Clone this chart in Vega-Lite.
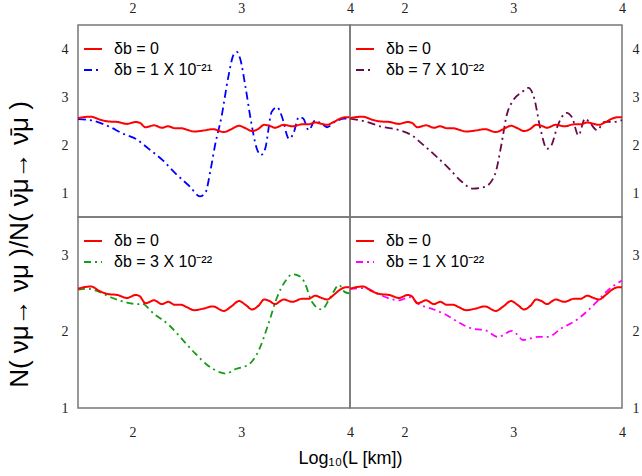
{
  "$schema": "https://vega.github.io/schema/vega-lite/v6.json",
  "padding": {"left": 5, "top": 0, "right": 0, "bottom": 0},
  "config": {
    "view": {"stroke": "#777", "strokeWidth": 1.5},
    "axis": {
      "grid": false,
      "domain": false,
      "ticks": false,
      "labelFont": "Liberation Serif",
      "labelFontSize": 14,
      "labelColor": "#222",
      "labelFlush": false,
      "labelOverlap": false,
      "labelExpr": "datum.value % 1 == 0 ? format(datum.value, 'd') : ''",
      "titleFont": "Liberation Sans",
      "titleFontWeight": "normal",
      "titleColor": "black"
    },
    "legend": {
      "orient": "none",
      "legendX": 5,
      "legendY": 14,
      "title": null,
      "padding": 0,
      "labelFont": "Liberation Sans",
      "labelFontSize": 16,
      "labelColor": "black",
      "symbolSize": 324,
      "symbolStrokeWidth": 2,
      "symbolType": "stroke",
      "rowPadding": 3,
      "labelOffset": 11
    },
    "line": {"strokeWidth": 2, "interpolate": "monotone"},
    "tick": {"thickness": 1.5, "color": "black", "opacity": 1}
  },
  "datasets": {
    "xt": [
      {"x": 2, "k": "major"}, {"x": 2.5, "k": "minor"}, {"x": 3, "k": "major"}, {"x": 3.5, "k": "minor"}
    ],
    "ytTop": [
      {"y": 1, "k": "major"}, {"y": 1.5, "k": "minor"}, {"y": 2, "k": "major"}, {"y": 2.5, "k": "minor"},
      {"y": 3, "k": "major"}, {"y": 3.5, "k": "minor"}, {"y": 4, "k": "major"}
    ],
    "ytBot": [
      {"y": 1.5, "k": "minor"}, {"y": 2, "k": "major"}, {"y": 2.5, "k": "minor"}, {"y": 3, "k": "major"}
    ],
    "red": [
      {"x": 1.50, "y": 2.56}, {"x": 1.55, "y": 2.58}, {"x": 1.62, "y": 2.59}, {"x": 1.70, "y": 2.53},
      {"x": 1.78, "y": 2.49}, {"x": 1.86, "y": 2.48}, {"x": 1.95, "y": 2.44}, {"x": 2.03, "y": 2.48},
      {"x": 2.07, "y": 2.46}, {"x": 2.12, "y": 2.37}, {"x": 2.20, "y": 2.41}, {"x": 2.27, "y": 2.36},
      {"x": 2.33, "y": 2.39}, {"x": 2.39, "y": 2.35}, {"x": 2.45, "y": 2.35}, {"x": 2.50, "y": 2.32},
      {"x": 2.57, "y": 2.28}, {"x": 2.65, "y": 2.30}, {"x": 2.74, "y": 2.33}, {"x": 2.84, "y": 2.27},
      {"x": 2.91, "y": 2.33}, {"x": 2.98, "y": 2.40}, {"x": 3.04, "y": 2.35}, {"x": 3.10, "y": 2.29},
      {"x": 3.16, "y": 2.34}, {"x": 3.21, "y": 2.42}, {"x": 3.26, "y": 2.40}, {"x": 3.31, "y": 2.36},
      {"x": 3.39, "y": 2.42}, {"x": 3.47, "y": 2.39}, {"x": 3.56, "y": 2.43}, {"x": 3.62, "y": 2.43},
      {"x": 3.68, "y": 2.47}, {"x": 3.74, "y": 2.44}, {"x": 3.79, "y": 2.42}, {"x": 3.85, "y": 2.48},
      {"x": 3.91, "y": 2.55}, {"x": 3.96, "y": 2.58}, {"x": 4.00, "y": 2.58}
    ],
    "b21": [
      {"x": 1.50, "y": 2.54}, {"x": 1.63, "y": 2.51}, {"x": 1.79, "y": 2.38}, {"x": 1.91, "y": 2.24},
      {"x": 2.03, "y": 2.13}, {"x": 2.15, "y": 1.92}, {"x": 2.28, "y": 1.68}, {"x": 2.40, "y": 1.40},
      {"x": 2.53, "y": 1.13}, {"x": 2.62, "y": 0.93}, {"x": 2.67, "y": 1.00}, {"x": 2.72, "y": 1.50},
      {"x": 2.76, "y": 2.00}, {"x": 2.82, "y": 2.60}, {"x": 2.88, "y": 3.40}, {"x": 2.93, "y": 3.88},
      {"x": 2.96, "y": 3.94}, {"x": 2.99, "y": 3.80}, {"x": 3.04, "y": 3.20}, {"x": 3.09, "y": 2.50},
      {"x": 3.14, "y": 1.95}, {"x": 3.18, "y": 1.79}, {"x": 3.22, "y": 1.92}, {"x": 3.28, "y": 2.69},
      {"x": 3.33, "y": 2.79}, {"x": 3.37, "y": 2.62}, {"x": 3.44, "y": 2.13}, {"x": 3.48, "y": 2.24},
      {"x": 3.53, "y": 2.58}, {"x": 3.57, "y": 2.55}, {"x": 3.62, "y": 2.31}, {"x": 3.68, "y": 2.51},
      {"x": 3.74, "y": 2.44}, {"x": 3.79, "y": 2.37}, {"x": 3.86, "y": 2.48}, {"x": 3.95, "y": 2.55},
      {"x": 4.00, "y": 2.55}
    ],
    "b7": [
      {"x": 1.50, "y": 2.55}, {"x": 1.64, "y": 2.49}, {"x": 1.79, "y": 2.38}, {"x": 1.95, "y": 2.31},
      {"x": 2.07, "y": 2.20}, {"x": 2.16, "y": 2.03}, {"x": 2.28, "y": 1.79}, {"x": 2.41, "y": 1.51},
      {"x": 2.53, "y": 1.23}, {"x": 2.63, "y": 1.09}, {"x": 2.74, "y": 1.13}, {"x": 2.83, "y": 1.37},
      {"x": 2.89, "y": 1.99}, {"x": 2.94, "y": 2.62}, {"x": 3.00, "y": 2.93}, {"x": 3.08, "y": 3.10},
      {"x": 3.14, "y": 3.19}, {"x": 3.19, "y": 3.00}, {"x": 3.25, "y": 2.34}, {"x": 3.31, "y": 1.92},
      {"x": 3.35, "y": 1.99}, {"x": 3.41, "y": 2.41}, {"x": 3.49, "y": 2.67}, {"x": 3.54, "y": 2.58},
      {"x": 3.60, "y": 2.20}, {"x": 3.66, "y": 2.55}, {"x": 3.70, "y": 2.48}, {"x": 3.77, "y": 2.31},
      {"x": 3.84, "y": 2.48}, {"x": 3.92, "y": 2.48}, {"x": 4.00, "y": 2.52}
    ],
    "b3": [
      {"x": 1.50, "y": 2.55}, {"x": 1.60, "y": 2.56}, {"x": 1.68, "y": 2.53}, {"x": 1.80, "y": 2.45},
      {"x": 1.95, "y": 2.38}, {"x": 2.05, "y": 2.36}, {"x": 2.08, "y": 2.37}, {"x": 2.20, "y": 2.23},
      {"x": 2.34, "y": 2.08}, {"x": 2.47, "y": 1.88}, {"x": 2.58, "y": 1.71}, {"x": 2.70, "y": 1.55},
      {"x": 2.80, "y": 1.47}, {"x": 2.86, "y": 1.45}, {"x": 2.95, "y": 1.51}, {"x": 3.07, "y": 1.57},
      {"x": 3.16, "y": 1.75}, {"x": 3.25, "y": 2.10}, {"x": 3.33, "y": 2.45}, {"x": 3.41, "y": 2.67},
      {"x": 3.47, "y": 2.75}, {"x": 3.53, "y": 2.73}, {"x": 3.58, "y": 2.65}, {"x": 3.65, "y": 2.39},
      {"x": 3.74, "y": 2.29}, {"x": 3.82, "y": 2.45}, {"x": 3.90, "y": 2.61}, {"x": 3.95, "y": 2.52},
      {"x": 4.00, "y": 2.50}
    ],
    "b1": [
      {"x": 1.50, "y": 2.56}, {"x": 1.64, "y": 2.57}, {"x": 1.76, "y": 2.49}, {"x": 1.95, "y": 2.41},
      {"x": 2.05, "y": 2.45}, {"x": 2.13, "y": 2.36}, {"x": 2.25, "y": 2.30}, {"x": 2.37, "y": 2.23},
      {"x": 2.50, "y": 2.12}, {"x": 2.62, "y": 2.04}, {"x": 2.74, "y": 2.02}, {"x": 2.86, "y": 1.93},
      {"x": 2.99, "y": 2.01}, {"x": 3.03, "y": 1.97}, {"x": 3.09, "y": 1.89}, {"x": 3.23, "y": 1.93},
      {"x": 3.32, "y": 1.93}, {"x": 3.44, "y": 2.04}, {"x": 3.57, "y": 2.14}, {"x": 3.69, "y": 2.28},
      {"x": 3.78, "y": 2.41}, {"x": 3.87, "y": 2.54}, {"x": 4.00, "y": 2.67}
    ]
  },
  "columns": 2,
  "spacing": 0,
  "bounds": "flush",
  "resolve": {"scale": {"x": "independent", "y": "independent", "color": "independent", "strokeDash": "independent"}},
  "concat": [
    {
      "width": 272,
      "height": 192,
      "encoding": {
        "x": {"field": "x", "type": "quantitative", "scale": {"domain": [1.5, 4], "nice": false, "zero": false},
          "axis": {"orient": "top", "values": [2, 2.5, 3, 3.5, 4], "labelPadding": 10, "title": null}},
        "y": {"field": "y", "type": "quantitative", "scale": {"domain": [0.5, 4.5], "nice": false, "zero": false},
          "axis": {"orient": "left", "values": [1, 1.5, 2, 2.5, 3, 3.5, 4], "labelPadding": 10,
            "title": "N( νμ→ νμ )/N( ν̄μ→ ν̄μ )", "titleFontSize": 26, "titleX": -59, "titleY": 219, "titleBaseline": "middle", "titleAngle": 270}}
      },
      "layer": [
        {
          "data": {"name": "xt"},
          "mark": {"type": "tick", "orient": "vertical", "clip": true},
          "encoding": {
            "y": {"datum": 4.5},
            "size": {"field": "k", "type": "ordinal", "scale": {"domain": ["major", "minor"], "range": [16, 10]}, "legend": null}
          }
        },
        {
          "data": {"name": "ytTop"},
          "mark": {"type": "tick", "orient": "horizontal", "clip": true},
          "encoding": {
            "x": {"datum": 1.5},
            "size": {"field": "k", "type": "ordinal", "scale": {"domain": ["major", "minor"], "range": [16, 10]}, "legend": null}
          }
        },
        {
          "data": {"name": "b21"},
          "mark": {"type": "line", "strokeWidth": 1.8},
          "encoding": {
            "color": {"datum": "δb = 1 X 10⁻²¹", "scale": {"domain": ["δb = 0", "δb = 1 X 10⁻²¹"], "range": ["#ff0000", "#0000ff"]}},
            "strokeDash": {"datum": "δb = 1 X 10⁻²¹", "scale": {"domain": ["δb = 0", "δb = 1 X 10⁻²¹"], "range": [[1, 0], [8, 4, 2, 4]]}}
          }
        },
        {
          "data": {"name": "red"},
          "mark": "line",
          "encoding": {"color": {"datum": "δb = 0"}, "strokeDash": {"datum": "δb = 0"}}
        }
      ]
    },
    {
      "width": 272,
      "height": 192,
      "encoding": {
        "x": {"field": "x", "type": "quantitative", "scale": {"domain": [1.5, 4], "nice": false, "zero": false},
          "axis": {"orient": "top", "values": [2, 2.5, 3, 3.5, 4], "labelPadding": 10, "title": null}},
        "y": {"field": "y", "type": "quantitative", "scale": {"domain": [0.5, 4.5], "nice": false, "zero": false},
          "axis": {"orient": "right", "values": [1, 1.5, 2, 2.5, 3, 3.5, 4], "labelPadding": 10, "title": null}}
      },
      "layer": [
        {
          "data": {"name": "xt"},
          "mark": {"type": "tick", "orient": "vertical", "clip": true},
          "encoding": {
            "y": {"datum": 4.5},
            "size": {"field": "k", "type": "ordinal", "scale": {"domain": ["major", "minor"], "range": [16, 10]}, "legend": null}
          }
        },
        {
          "data": {"name": "ytTop"},
          "mark": {"type": "tick", "orient": "horizontal", "clip": true},
          "encoding": {
            "x": {"datum": 4},
            "size": {"field": "k", "type": "ordinal", "scale": {"domain": ["major", "minor"], "range": [16, 10]}, "legend": null}
          }
        },
        {
          "data": {"name": "b7"},
          "mark": {"type": "line", "strokeWidth": 1.8},
          "encoding": {
            "color": {"datum": "δb = 7 X 10⁻²²", "scale": {"domain": ["δb = 0", "δb = 7 X 10⁻²²"], "range": ["#ff0000", "#660a4c"]}},
            "strokeDash": {"datum": "δb = 7 X 10⁻²²", "scale": {"domain": ["δb = 0", "δb = 7 X 10⁻²²"], "range": [[1, 0], [8, 4, 2, 4]]}}
          }
        },
        {
          "data": {"name": "red"},
          "mark": "line",
          "encoding": {"color": {"datum": "δb = 0"}, "strokeDash": {"datum": "δb = 0"}}
        }
      ]
    },
    {
      "width": 272,
      "height": 191,
      "encoding": {
        "x": {"field": "x", "type": "quantitative", "scale": {"domain": [1.5, 4], "nice": false, "zero": false},
          "axis": {"orient": "bottom", "values": [2, 2.5, 3, 3.5, 4], "labelPadding": 17,
            "title": "Log₁₀(L [km])", "titleFontSize": 18, "titleX": 272, "titleY": 50, "titleBaseline": "middle", "titleAlign": "center"}},
        "y": {"field": "y", "type": "quantitative", "scale": {"domain": [1, 3.5], "nice": false, "zero": false},
          "axis": {"orient": "left", "values": [1, 1.5, 2, 2.5, 3], "labelPadding": 10, "title": null}}
      },
      "layer": [
        {
          "data": {"name": "xt"},
          "mark": {"type": "tick", "orient": "vertical", "clip": true},
          "encoding": {
            "y": {"datum": 1},
            "size": {"field": "k", "type": "ordinal", "scale": {"domain": ["major", "minor"], "range": [16, 10]}, "legend": null}
          }
        },
        {
          "data": {"name": "ytBot"},
          "mark": {"type": "tick", "orient": "horizontal", "clip": true},
          "encoding": {
            "x": {"datum": 1.5},
            "size": {"field": "k", "type": "ordinal", "scale": {"domain": ["major", "minor"], "range": [16, 10]}, "legend": null}
          }
        },
        {
          "data": {"name": "b3"},
          "mark": {"type": "line", "strokeWidth": 1.8},
          "encoding": {
            "color": {"datum": "δb = 3 X 10⁻²²", "scale": {"domain": ["δb = 0", "δb = 3 X 10⁻²²"], "range": ["#ff0000", "#159b15"]}},
            "strokeDash": {"datum": "δb = 3 X 10⁻²²", "scale": {"domain": ["δb = 0", "δb = 3 X 10⁻²²"], "range": [[1, 0], [7, 4, 2, 4]]}}
          }
        },
        {
          "data": {"name": "red"},
          "mark": "line",
          "encoding": {"color": {"datum": "δb = 0"}, "strokeDash": {"datum": "δb = 0"}}
        }
      ]
    },
    {
      "width": 272,
      "height": 191,
      "encoding": {
        "x": {"field": "x", "type": "quantitative", "scale": {"domain": [1.5, 4], "nice": false, "zero": false},
          "axis": {"orient": "bottom", "values": [2, 2.5, 3, 3.5, 4], "labelPadding": 17, "title": null}},
        "y": {"field": "y", "type": "quantitative", "scale": {"domain": [1, 3.5], "nice": false, "zero": false},
          "axis": {"orient": "right", "values": [1, 1.5, 2, 2.5, 3], "labelPadding": 10, "title": null}}
      },
      "layer": [
        {
          "data": {"name": "xt"},
          "mark": {"type": "tick", "orient": "vertical", "clip": true},
          "encoding": {
            "y": {"datum": 1},
            "size": {"field": "k", "type": "ordinal", "scale": {"domain": ["major", "minor"], "range": [16, 10]}, "legend": null}
          }
        },
        {
          "data": {"name": "ytBot"},
          "mark": {"type": "tick", "orient": "horizontal", "clip": true},
          "encoding": {
            "x": {"datum": 4},
            "size": {"field": "k", "type": "ordinal", "scale": {"domain": ["major", "minor"], "range": [16, 10]}, "legend": null}
          }
        },
        {
          "data": {"name": "b1"},
          "mark": {"type": "line", "strokeWidth": 1.8},
          "encoding": {
            "color": {"datum": "δb = 1 X 10⁻²²", "scale": {"domain": ["δb = 0", "δb = 1 X 10⁻²²"], "range": ["#ff0000", "#ff00ff"]}},
            "strokeDash": {"datum": "δb = 1 X 10⁻²²", "scale": {"domain": ["δb = 0", "δb = 1 X 10⁻²²"], "range": [[1, 0], [7, 4, 2, 4]]}}
          }
        },
        {
          "data": {"name": "red"},
          "mark": "line",
          "encoding": {"color": {"datum": "δb = 0"}, "strokeDash": {"datum": "δb = 0"}}
        }
      ]
    }
  ]
}
